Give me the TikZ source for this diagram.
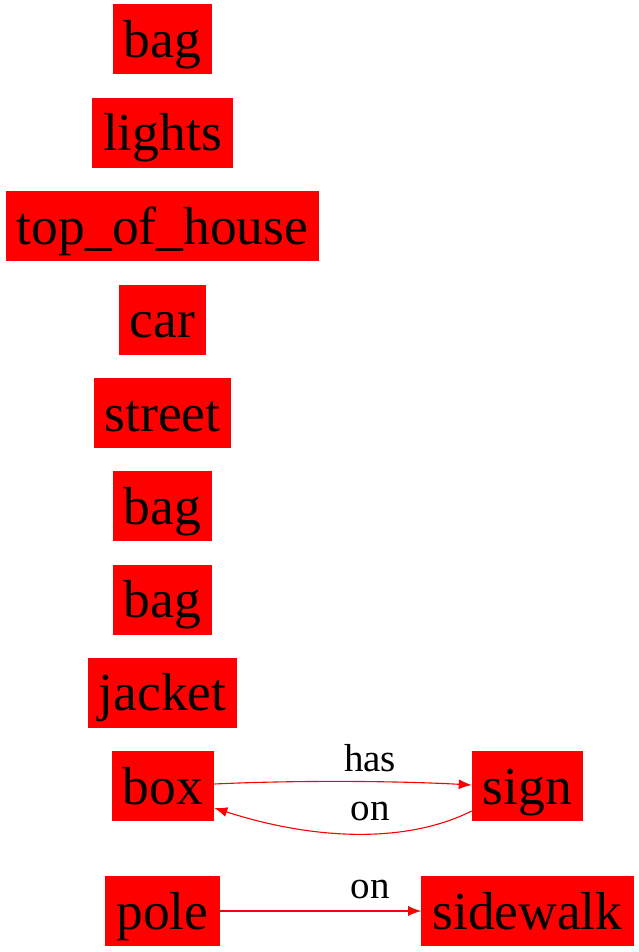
\documentclass[tikz,border=0pt]{standalone}
\usepackage{fontspec}
\setmainfont{Liberation Serif}
\usetikzlibrary{arrows.meta}
\begin{document}
\begin{tikzpicture}[x=1pt,y=-1pt,
  obj/.style={fill=red,draw=none,inner xsep=11pt,inner ysep=0pt,minimum height=70pt,text height=40pt,text depth=4pt,font=\fontsize{53.5}{60}\selectfont},
  rel/.style={draw=red,line width=1.1pt,-{Latex[length=13pt,width=10pt]}},
  lbl/.style={anchor=base,font=\fontsize{39}{44}\selectfont,inner sep=0pt}]
\useasboundingbox (0,0) rectangle (639,952);
\node[obj] (bag1) at (162.5,39.5) {bag};
\node[obj] (lights) at (162.5,133) {lights};
\node[obj] (toh) at (162.5,226) {top\_of\_house};
\node[obj] (car) at (162.5,319.5) {car};
\node[obj] (street) at (162.5,413) {street};
\node[obj] (bag2) at (162.5,506) {bag};
\node[obj] (bag3) at (162.5,599.5) {bag};
\node[obj] (jacket) at (162.5,692.5) {jacket};
\node[obj] (box) at (163,786) {box};
\node[obj] (sign) at (527.5,786) {sign};
\node[obj] (pole) at (162.5,911) {pole};
\node[obj] (sidewalk) at (527.5,911) {sidewalk};
\draw[rel] ([yshift=2pt]box.east) .. controls (300,780) and (400,781) .. ([yshift=1pt]sign.west);
\node[lbl] (has) at (370,771) {has};
\draw[rel] ([yshift=-25pt]sign.west) .. controls (410,842) and (320,842) .. ([yshift=-22pt]box.east);
\node[lbl] (on1) at (370,820) {on};
\draw[rel] (pole.east) -- (sidewalk.west);
\node[lbl] (on2) at (370,898) {on};
\end{tikzpicture}
\end{document}
